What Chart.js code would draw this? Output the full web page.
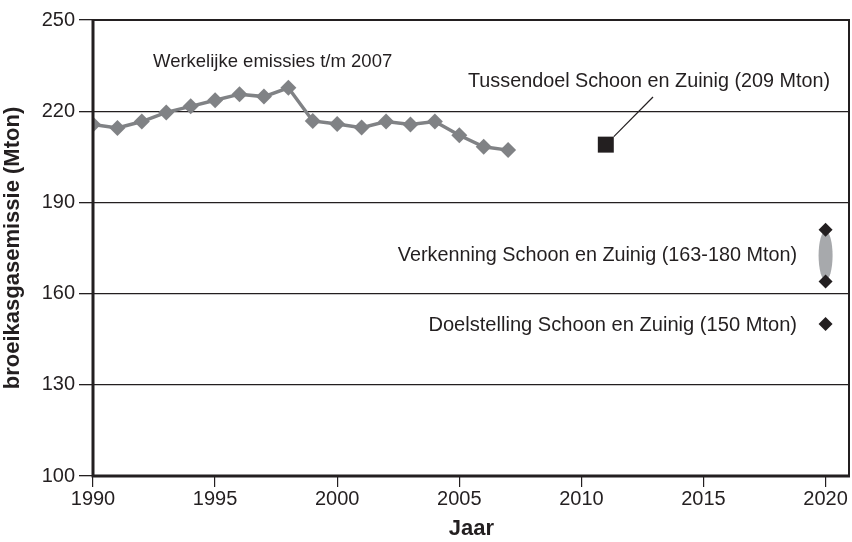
<!DOCTYPE html>
<html>
<head>
<meta charset="utf-8">
<script src="https://cdn.jsdelivr.net/npm/chart.js@4"></script>
<style>
  html, body { margin: 0; padding: 0; background: #fff; overflow: hidden; }
  #wrap { width: 852px; height: 542px; position: relative; }
  canvas { display: block; }
</style>
</head>
<body>
<div id="wrap"><canvas id="emissie"></canvas></div>
<script>
// gegevens
const jaren = [1990, 1991, 1992, 1993, 1994, 1995, 1996, 1997, 1998, 1999, 2000, 2001, 2002, 2003, 2004, 2005, 2006, 2007];
const emissies = [215.6, 214.5, 216.6, 219.6, 221.6, 223.6, 225.6, 224.8, 227.7, 216.8, 215.8, 214.6, 216.6, 215.6, 216.6, 212.1, 208.3, 207.2];
const tussendoel = [{ x: 2011, y: 209 }];
const verkenning = [{ x: 2020, y: 181 }, { x: 2020, y: 164 }];
const doelstelling = [{ x: 2020, y: 150 }];
const yTicks = [100, 130, 160, 190, 220, 250];
const xTicks = [1990, 1995, 2000, 2005, 2010, 2015, 2020];

const fontFam = '"Liberation Sans", Arial, Helvetica, sans-serif';
const ink = '#231f20';

// ellips tussen de twee verkenningspunten
const ellipsPlugin = {
  id: 'ellips',
  beforeDatasetsDraw(chart) {
    const { ctx, scales: { x, y } } = chart;
    const cx = x.getPixelForValue(verkenning[0].x);
    const y1 = y.getPixelForValue(verkenning[0].y);
    const y2 = y.getPixelForValue(verkenning[1].y);
    ctx.save();
    ctx.fillStyle = '#a7a9ac';
    ctx.beginPath();
    ctx.ellipse(cx, (y1 + y2) / 2, 7, (y2 - y1) / 2 - 1, 0, 0, Math.PI * 2);
    ctx.fill();
    ctx.restore();
  }
};

// teksten, verbindingslijn en kader
const labelsPlugin = {
  id: 'labels',
  afterDraw(chart) {
    const { ctx, chartArea: a, scales: { x, y } } = chart;
    ctx.save();
    ctx.fillStyle = ink;
    ctx.textBaseline = 'middle';
    ctx.textAlign = 'left';
    ctx.font = '18.5px ' + fontFam;
    ctx.fillText('Werkelijke emissies t/m 2007', 153, 62);
    ctx.font = '19.8px ' + fontFam;
    ctx.fillText('Tussendoel Schoon en Zuinig (209 Mton)', 468, 82);
    ctx.textAlign = 'right';
    ctx.fillText('Verkenning Schoon en Zuinig (163-180 Mton)', 797, 256);
    ctx.font = '20.1px ' + fontFam;
    ctx.fillText('Doelstelling Schoon en Zuinig (150 Mton)', 797, 325);

    // lijntje van het tussendoel naar de tekst
    const sx = x.getPixelForValue(tussendoel[0].x);
    const sy = y.getPixelForValue(tussendoel[0].y);
    ctx.strokeStyle = ink;
    ctx.lineWidth = 1.2;
    ctx.beginPath();
    ctx.moveTo(sx + 8, sy - 8);
    ctx.lineTo(653, 97);
    ctx.stroke();

    // kader
    ctx.lineWidth = 2;
    ctx.beginPath();
    ctx.moveTo(a.left, a.top);
    ctx.lineTo(a.right - 1, a.top);
    ctx.lineTo(a.right - 1, a.bottom);
    ctx.stroke();
    ctx.lineWidth = 3;
    ctx.beginPath();
    ctx.moveTo(a.left, a.top);
    ctx.lineTo(a.left, a.bottom);
    ctx.lineTo(a.right, a.bottom);
    ctx.stroke();
    ctx.restore();
  }
};

new Chart(document.getElementById('emissie'), {
  type: 'scatter',
  data: {
    datasets: [
      {
        label: 'Werkelijke emissies',
        data: jaren.map((j, i) => ({ x: j, y: emissies[i] })),
        showLine: true,
        borderColor: '#808285',
        backgroundColor: '#808285',
        borderWidth: 3.5,
        pointStyle: 'rectRot',
        pointRadius: 8,
        pointBorderWidth: 0,
        order: 3
      },
      {
        label: 'Tussendoel',
        data: tussendoel,
        pointStyle: 'rect',
        pointRadius: 11.3,
        backgroundColor: ink,
        borderWidth: 0
      },
      {
        label: 'Verkenning',
        data: verkenning,
        pointStyle: 'rectRot',
        pointRadius: 7,
        backgroundColor: ink,
        borderWidth: 0
      },
      {
        label: 'Doelstelling',
        data: doelstelling,
        pointStyle: 'rectRot',
        pointRadius: 7,
        backgroundColor: ink,
        borderWidth: 0
      }
    ]
  },
  options: {
    responsive: true,
    maintainAspectRatio: false,
    animation: false,
    layout: { autoPadding: false, padding: { top: 20, right: 0, left: 0, bottom: 0 } },
    plugins: { legend: { display: false }, tooltip: { enabled: false } },
    scales: {
      x: {
        type: 'linear',
        min: 1990,
        max: 2021,
        afterBuildTicks: s => { s.ticks = xTicks.map(v => ({ value: v })); },
        afterFit: s => { s.height = 66; s.paddingRight = 2; },
        grid: { drawOnChartArea: false, color: ink, tickLength: 11, lineWidth: 1.2 },
        border: { display: false },
        ticks: { color: ink, font: { family: fontFam, size: 20 }, padding: 0, maxRotation: 0, callback: v => String(v) },
        title: { display: true, text: 'Jaar', color: ink, font: { family: fontFam, size: 22, weight: 'bold' }, padding: { top: 0, bottom: 0 } }
      },
      y: {
        min: 100,
        max: 250,
        afterBuildTicks: s => { s.ticks = yTicks.map(v => ({ value: v })); },
        afterFit: s => { s.width = 93; },
        grid: { color: ink, tickLength: 14, lineWidth: 1.3 },
        border: { display: false },
        ticks: { color: ink, font: { family: fontFam, size: 20 }, padding: 4 },
        title: { display: true, text: 'broeikasgasemissie (Mton)', color: ink, font: { family: fontFam, size: 22, weight: 'bold' }, padding: { top: 0, bottom: 3 } }
      }
    }
  },
  plugins: [ellipsPlugin, labelsPlugin]
});
</script>
</body>
</html>
